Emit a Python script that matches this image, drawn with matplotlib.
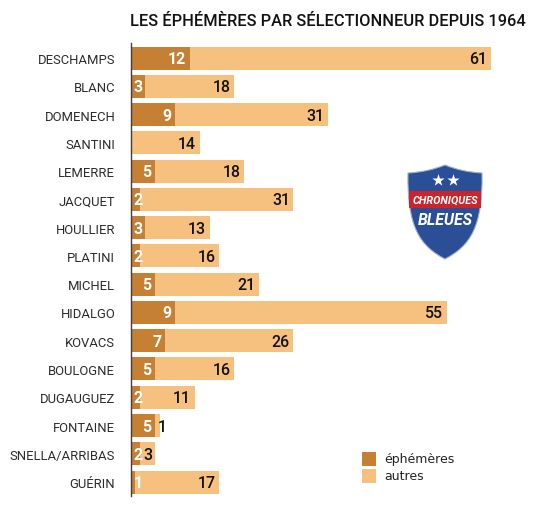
import matplotlib
matplotlib.use("Agg")
import matplotlib.pyplot as plt
from matplotlib.path import Path
from matplotlib.patches import PathPatch, Rectangle

coaches = ["DESCHAMPS", "BLANC", "DOMENECH", "SANTINI", "LEMERRE", "JACQUET", "HOULLIER", "PLATINI",
           "MICHEL", "HIDALGO", "KOVACS", "BOULOGNE", "DUGAUGUEZ", "FONTAINE", "SNELLA/ARRIBAS", "GUÉRIN"]
ephemeres = [12, 3, 9, 0, 5, 2, 3, 2, 5, 9, 7, 5, 2, 5, 2, 1]
autres = [61, 18, 31, 14, 18, 31, 13, 16, 21, 55, 26, 16, 11, 1, 3, 17]

DARK = "#C58033"
LIGHT = "#F6C17E"
FONT = "Roboto"
W, H = 550, 510
X0, X1 = 130.5, 491.0
YTOP, YBOT = 44.0, 497.0
STEP = 28.27
FIRST = 59.0

fig = plt.figure(figsize=(W / 100, H / 100), dpi=100, facecolor="white")
ax = fig.add_axes([X0 / W, 1 - YBOT / H, (X1 - X0) / W, (YBOT - YTOP) / H])
ax.set_xlim(0, ephemeres[0] + autres[0])
ax.set_ylim((YBOT - FIRST) / STEP, (YTOP - FIRST) / STEP)
ypos = list(range(len(coaches)))
PX = ax.get_xlim()[1] / (X1 - X0)

ax.barh(ypos, ephemeres, height=23 / STEP, color=DARK, linewidth=0, zorder=2)
ax.barh(ypos, autres, left=ephemeres, height=23 / STEP, color=LIGHT, linewidth=0, zorder=2)

for s in ["top", "right", "bottom"]:
    ax.spines[s].set_visible(False)
ax.spines["left"].set_color("#4a3a3a")
ax.spines["left"].set_linewidth(1.0)
ax.spines["left"].set_zorder(5)
ax.set_xticks([])
ax.set_yticks(ypos)
ax.set_yticklabels(coaches, fontfamily=FONT, fontsize=9.4, color="#2b2b2b")
ax.tick_params(axis="y", length=0, pad=11)


def value_label(left, val, y, color, weight):
    if val == 0:
        return
    if val <= 3:
        x, ha = left + 3.0 * PX, "left"
    else:
        x, ha = left + val - 3.5 * PX, "right"
    ax.text(x, y - 1.0 / STEP, str(val), ha=ha, va="center_baseline", color=color, fontfamily=FONT,
            fontsize=11.4, fontweight=weight, zorder=4)


for y, e, a in zip(ypos, ephemeres, autres):
    value_label(0, e, y, "white", "bold")
    value_label(e, a, y, "#111111", "medium")

fig.text(130 / W, 1 - 22 / H, "LES ÉPHÉMÈRES PAR SÉLECTIONNEUR DEPUIS 1964", ha="left", va="center",
         fontfamily=FONT, fontsize=11.8, fontweight="medium", color="#111111")

# legend
for yy, c, t in [(459.5, DARK, "éphémères"), (477, LIGHT, "autres")]:
    fig.patches.append(Rectangle((362 / W, 1 - (yy + 7) / H), 14 / W, 14 / H, transform=fig.transFigure,
                                 facecolor=c, linewidth=0, figure=fig))
    fig.text(384 / W, 1 - yy / H, t, ha="left", va="center", fontfamily="DejaVu Sans", fontsize=9.0, color="#222222")

# logo, in pixel coordinates
lg = fig.add_axes([0, 0, 1, 1], facecolor="none", zorder=10)
lg.set_xlim(0, W)
lg.set_ylim(H, 0)
lg.axis("off")
verts = [(408, 174), (428, 173), (445, 166), (445, 166), (462, 173), (482, 174),
         (483, 228), (470, 247), (445, 260), (420, 247), (407, 228), (408, 174), (408, 174)]
codes = [Path.MOVETO, Path.CURVE3, Path.CURVE3, Path.LINETO, Path.CURVE3, Path.CURVE3,
         Path.CURVE4, Path.CURVE4, Path.CURVE4, Path.CURVE4, Path.CURVE4, Path.CURVE4, Path.CLOSEPOLY]
lg.add_patch(PathPatch(Path(verts, codes), facecolor="#2B4F97", edgecolor="#9DB0CF", linewidth=0.8))
lg.add_patch(Rectangle((409, 192), 72, 17, facecolor="#C9252B", linewidth=0))
lg.scatter([437.5, 452.5], [181, 181], marker="*", s=85, color="white", linewidth=0, zorder=3)
lg.text(445, 200.5, "CHRONIQUES", ha="center", va="center", color="white", fontfamily=FONT,
        fontsize=7.8, fontstyle="italic", fontweight="bold", zorder=4)
lg.text(445, 221, "BLEUES", ha="center", va="center", color="white", fontfamily=FONT,
        fontsize=11.4, fontstyle="italic", fontweight="bold", zorder=4)

fig.savefig("out.png", dpi=100, facecolor="white")
